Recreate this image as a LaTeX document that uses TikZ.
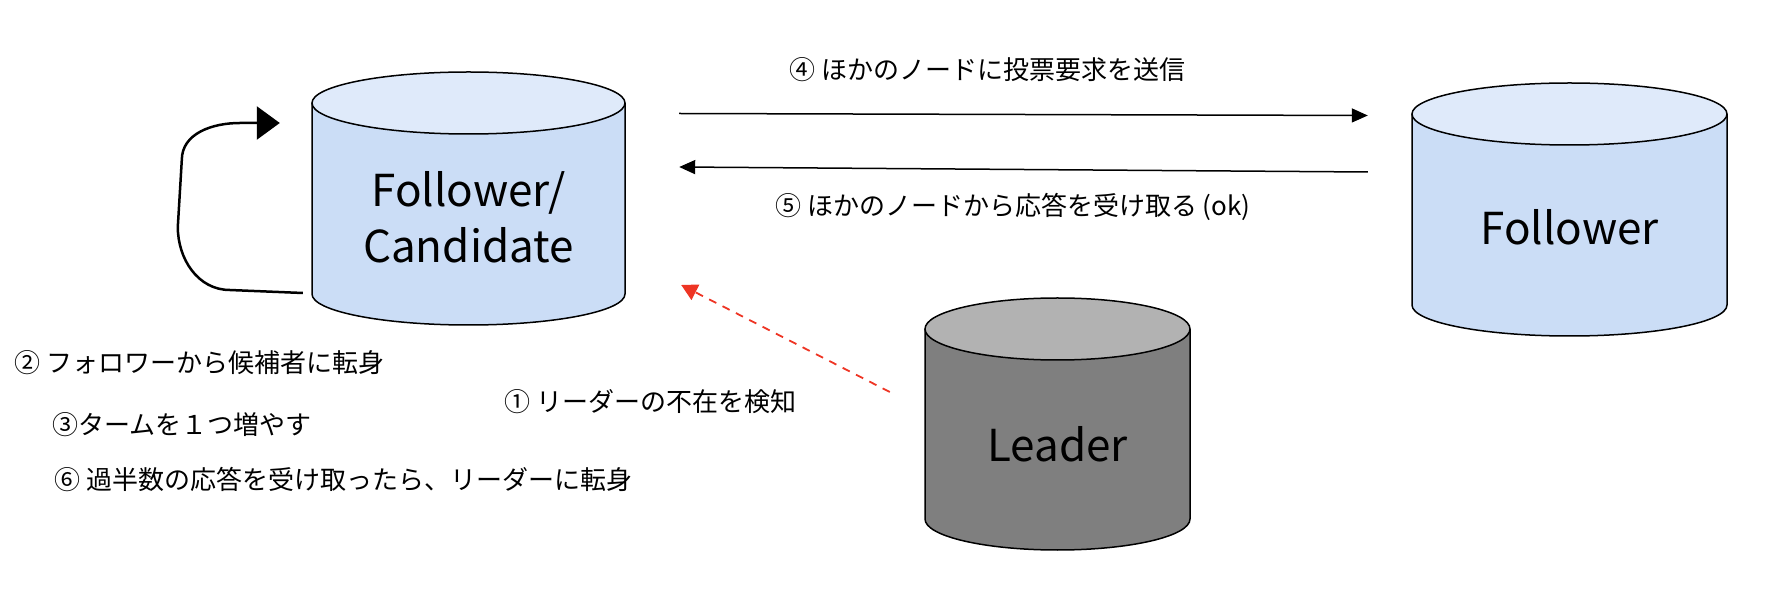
\documentclass[tikz,border=0pt]{standalone}
\usepackage{fontspec}
\setmainfont{Noto Sans CJK JP}
\usetikzlibrary{arrows.meta}
\usetikzlibrary{calc}

\definecolor{dbblue}{HTML}{CBDDF6}
\definecolor{dbbluetop}{HTML}{DFEAFA}
\definecolor{dbgrey}{HTML}{7F7F7F}
\definecolor{dbgreytop}{HTML}{B2B2B2}
\definecolor{lostred}{HTML}{EE3524}

% #1 name, #2 centre x, #3 top y, #4 bottom y, #5 x radius, #6 body, #7 lid
\newcommand{\dbdrum}[7]{%
  \fill[#6] (#2-#5,#3) -- (#2-#5,#4) arc[start angle=180,end angle=360,x radius=#5,y radius=31] -- (#2+#5,#3) -- cycle;
  \draw[db line] (#2-#5,#3) -- (#2-#5,#4) arc[start angle=180,end angle=360,x radius=#5,y radius=31] -- (#2+#5,#3);
  \filldraw[db line,fill=#7] (#2,#3) ellipse[x radius=#5,y radius=31];
  \node[inner sep=0pt,minimum width=2*#5,minimum height=#3-#4+62] (#1) at (#2,{(#3+#4)/2}) {};
}

\begin{document}
\begin{tikzpicture}[x=1pt,y=1pt,>={Triangle[length=16pt,width=14pt]},
                    db line/.style={line width=1.5pt},
                    db label/.style={align=center,font=\fontsize{44}{56}\selectfont},
                    step label/.style={anchor=west,inner sep=0pt,font=\fontsize{26}{30}\selectfont},
                    msg/.style={line width=1.5pt,->}]
\useasboundingbox (0,0) rectangle (1786,592);

\dbdrum{cand}{468.5}{489}{298}{156.5}{dbblue}{dbbluetop}
\dbdrum{fol}{1569.5}{478}{287}{157.5}{dbblue}{dbbluetop}
\dbdrum{lead}{1057.5}{263}{73}{132.5}{dbgrey}{dbgreytop}

\node[db label] (candtext) at ([yshift=-19pt]cand.center) {Follower/\\Candidate};
\node[db label] (foltext) at ([yshift=-18pt]fol.center) {Follower};
\node[db label] (leadtext) at ([yshift=-20pt]lead.center) {Leader};

% vote request / reply
\draw[msg] ([shift={(54,85)}]cand.east) -- ([shift={(-44,94)}]fol.west);
\draw[msg] ([shift={(-44,37.5)}]fol.west) -- ([shift={(54,31.5)}]cand.east);

% self transition
\coordinate (loop out) at ([shift={(-9,-94.5)}]cand.west);
\coordinate (loop in) at ([shift={(-32,75.5)}]cand.west);
\draw[line width=2.5pt,-{Triangle[length=23pt,width=33pt]}]
  (loop out) -- ++(-73,3) to[out=180,in=270] ++(-52,63) -- ++(4,67)
  to[out=90,in=180] ++(58,37) -- (loop in);

% leader lost
\draw[lostred,line width=1.8pt,dash pattern=on 8pt off 7pt,
      -{Triangle[length=16pt,width=17pt]}]
  ([shift={(-35,32)}]lead.west) -- ([shift={(56,-86.5)}]cand.east);

\node[step label] (s4) at (789,522) {④ ほかのノードに投票要求を送信};
\node[step label] (s5) at (775,385) {⑤ ほかのノードから応答を受け取る (ok)};
\node[step label] (s1) at (504,190) {① リーダーの不在を検知};
\node[step label] (s2) at (14,229) {② フォロワーから候補者に転身};
\node[step label] (s3) at (52,167) {③タームを１つ増やす};
\node[step label] (s6) at (54,112) {⑥ 過半数の応答を受け取ったら、リーダーに転身};
\end{tikzpicture}
\end{document}
